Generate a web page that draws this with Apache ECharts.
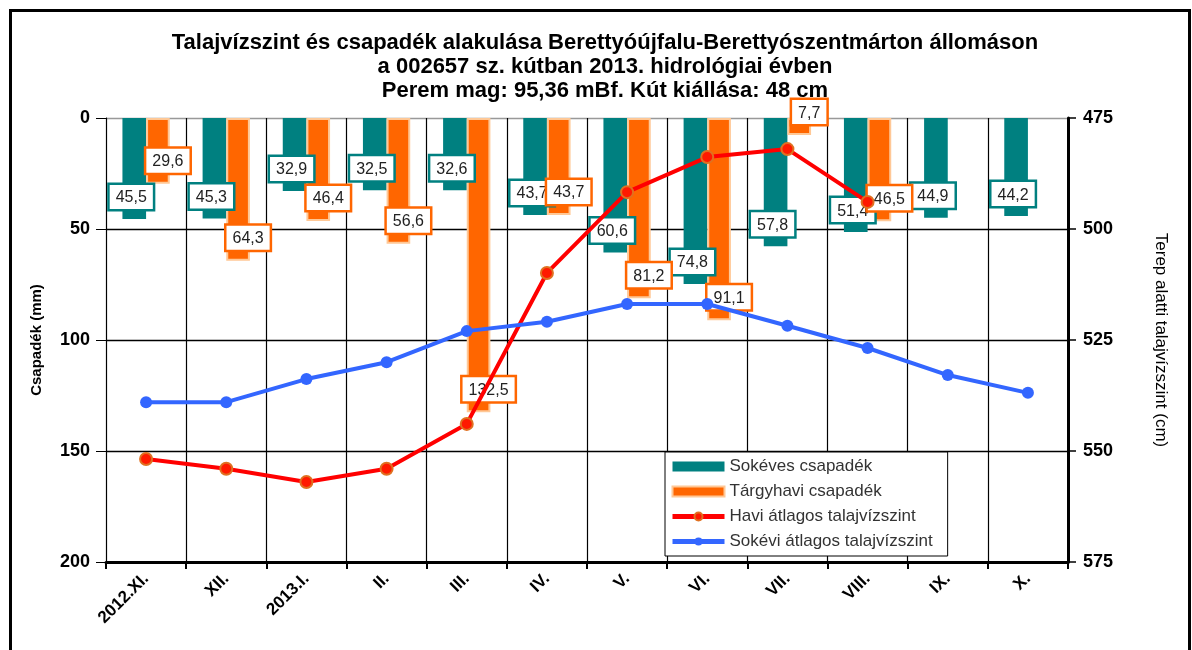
<!DOCTYPE html>
<html>
<head>
<meta charset="utf-8">
<script src="https://cdn.jsdelivr.net/npm/echarts@6/dist/echarts.min.js"></script>
<style>
  html, body { margin: 0; padding: 0; background: #fff; }
  #chart { width: 1192px; height: 650px; }
</style>
</head>
<body>
<div id="chart"></div>
<script>
// ---------------------------------------------------------------------------
// Data
// ---------------------------------------------------------------------------
const months = ["2012.XI.", "XII.", "2013.I.", "II.", "III.", "IV.", "V.", "VI.", "VII.", "VIII.", "IX.", "X."];

// csapadék (mm)
const sokevesCsapadek = [45.5, 45.3, 32.9, 32.5, 32.6, 43.7, 60.6, 74.8, 57.8, 51.4, 44.9, 44.2];
const targyhaviCsapadek = [29.6, 64.3, 46.4, 56.6, 132.5, 43.7, 81.2, 91.1, 7.7, 46.5, null, null];

// talajvízszint (cm, terep alatt)
const haviTalajviz = [551.8, 554.0, 557.0, 554.0, 543.9, 509.9, 491.7, 483.8, 482.0, 493.9, null, null];
const sokeviTalajviz = [539.0, 539.0, 533.8, 530.0, 523.0, 520.9, 516.9, 516.9, 521.8, 526.8, 532.9, 536.9];

const titleLines = [
  "Talajvízszint és csapadék alakulása Berettyóújfalu-Berettyószentmárton állomáson",
  "a 002657 sz. kútban 2013. hidrológiai évben",
  "Perem mag: 95,36 mBf. Kút kiállása: 48 cm",
];

const chart = echarts.init(document.getElementById("chart"));

const FONT = "Liberation Sans, Arial, sans-serif";
const TEAL = "#008080";
const ORANGE = "#ff6600";

const fmtComma = (p) => String(p.value).replace(".", ",");

function barLabel(color, dist, dx) {
  return {
    show: true,
    position: "insideBottom",
    distance: dist,
    offset: [dx, 0],
    formatter: fmtComma,
    fontFamily: FONT,
    fontSize: 16,
    color: "#222",
    backgroundColor: "#fff",
    borderColor: color,
    borderWidth: 2.5,
    padding: [5, 6, 3, 6],
  };
}

const option = {
  backgroundColor: "#fff",
  animation: false,
  title: titleLines.map((t, i) => ({
    text: t,
    left: 600,
    top: 27 + i * 24,
    textAlign: "center",
    textStyle: { fontFamily: FONT, fontSize: 22, fontWeight: "bold", color: "#000" },
  })),
  legend: {
    orient: "vertical",
    left: 665,
    top: 452,
    backgroundColor: "#fff",
    borderColor: "#000",
    borderWidth: 1,
    padding: [6, 15, 6, 5],
    itemGap: 8,
    itemWidth: 52,
    itemHeight: 10,
    textStyle: { fontFamily: FONT, fontSize: 17, color: "#333" },
    data: [
      { name: "Sokéves csapadék", icon: "rect" },
      { name: "Tárgyhavi csapadék", icon: "rect" },
      { name: "Havi átlagos talajvízszint", lineStyle: { width: 5 } },
      { name: "Sokévi átlagos talajvízszint", lineStyle: { width: 5 } },
    ],
  },
  grid: { left: 106, right: 124, top: 118, bottom: 88, containLabel: false },
  xAxis: {
    type: "category",
    data: months,
    axisLine: { onZero: false, lineStyle: { color: "#000", width: 3 } },
    axisTick: { show: true, length: 7, lineStyle: { color: "#000", width: 2 } },
    axisLabel: { rotate: 45, margin: 14, fontFamily: FONT, fontSize: 17, fontWeight: "bold", color: "#000" },
    splitLine: { show: true, lineStyle: { color: "#000", width: 1.2 } },
  },
  yAxis: [
    {
      type: "value",
      inverse: true,
      min: 0,
      max: 200,
      interval: 50,
      name: "Csapadék (mm)",
      nameLocation: "middle",
      nameGap: 62,
      nameTextStyle: { fontFamily: FONT, fontSize: 15, fontWeight: "bold", color: "#000" },
      axisLine: { show: true, onZero: false, lineStyle: { color: "#000", width: 1 } },
      axisTick: { show: true, length: 10, lineStyle: { color: "#000" } },
      axisLabel: { margin: 16, fontFamily: FONT, fontSize: 18, fontWeight: "bold", color: "#000" },
      splitLine: { show: true, lineStyle: { color: ["#999", "#000", "#000", "#000", "#000"], width: 1.3 } },
    },
    {
      type: "value",
      inverse: true,
      min: 475,
      max: 575,
      interval: 25,
      position: "right",
      name: "Terep alatti talajvízszint (cm)",
      nameLocation: "middle",
      nameRotate: -90,
      nameGap: 84,
      nameTextStyle: { fontFamily: FONT, fontSize: 17, color: "#000" },
      axisLine: { show: true, onZero: false, lineStyle: { color: "#000", width: 3 } },
      axisTick: { show: true, length: 8, lineStyle: { color: "#000", width: 1.5 } },
      axisLabel: { margin: 15, fontFamily: FONT, fontSize: 18, fontWeight: "bold", color: "#000" },
      splitLine: { show: false },
    },
  ],
  series: [
    {
      name: "Sokéves csapadék",
      type: "bar",
      yAxisIndex: 0,
      data: sokevesCsapadek,
      barGap: "0%",
      barCategoryGap: "41%",
      itemStyle: { color: TEAL },
      label: barLabel(TEAL, 10, -3),
    },
    {
      name: "Tárgyhavi csapadék",
      type: "bar",
      yAxisIndex: 0,
      data: targyhaviCsapadek,
      itemStyle: { color: ORANGE, borderColor: "#ffc896", borderWidth: 2 },
      label: barLabel(ORANGE, 11, 10),
    },
    {
      name: "Havi átlagos talajvízszint",
      type: "line",
      yAxisIndex: 1,
      data: haviTalajviz,
      symbol: "circle",
      symbolSize: 12,
      lineStyle: { color: "#ff0000", width: 4 },
      itemStyle: { color: "#ff1a00", borderColor: "#e07020", borderWidth: 2 },
    },
    {
      name: "Sokévi átlagos talajvízszint",
      type: "line",
      yAxisIndex: 1,
      data: sokeviTalajviz,
      symbol: "circle",
      symbolSize: 12,
      lineStyle: { color: "#3366ff", width: 4 },
      itemStyle: { color: "#3366ff" },
    },
  ],
  graphic: [
    {
      type: "rect",
      left: 8,
      top: 8,
      shape: { width: 1179, height: 700 },
      style: { fill: "none", stroke: "#000", lineWidth: 3 },
      silent: true,
    },
  ],
};

chart.setOption(option);
</script>
</body>
</html>
